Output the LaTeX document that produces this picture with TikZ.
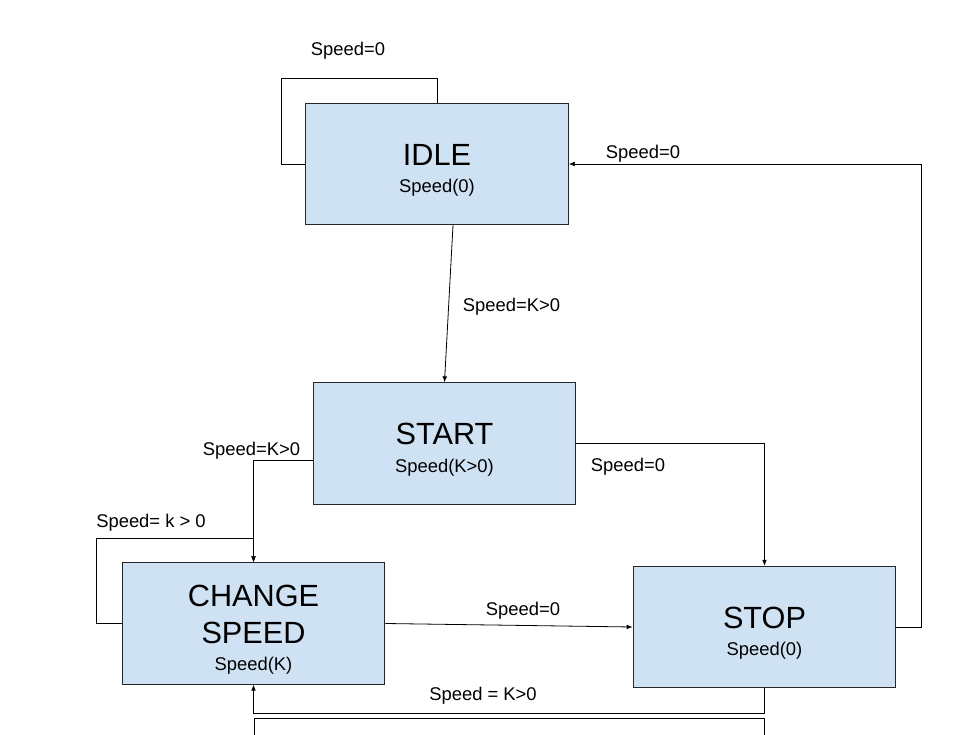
\documentclass[tikz,border=0pt]{standalone}
\usepackage{fontspec}
\setmainfont{Liberation Sans}
\usetikzlibrary{arrows.meta}
\definecolor{statefill}{HTML}{CFE2F3}
\newcommand{\titleword}[1]{{\fontsize{23}{28}\selectfont#1}}
\newcommand{\titletext}[1]{\rule{0pt}{25.5pt}\titleword{#1}}
\begin{document}
\begin{tikzpicture}[x=0.75pt,y=-0.75pt]
    \tikzset{state/.style = {shape=rectangle,draw=black!85,fill=statefill,line width=0.75pt,minimum width=197pt,minimum height=91pt,align=center,font=\fontsize{13.8}{20.5}\selectfont}}
    \tikzset{edge/.style = {-{Latex[length=4.5pt,width=3.5pt]},line width=0.6pt}}
    \tikzset{cond/.style = {anchor=base,inner sep=0pt,font=\fontsize{13.8}{16}\selectfont}}
    \useasboundingbox (0,0) rectangle (958,735);
    \node[state] (idle) at (437,164) {\titletext{IDLE}\\Speed(0)};
    \node[state] (start) at (444.5,443.5) {\titletext{START}\\Speed(K>0)};
    \node[state] (change) at (253.5,623.5) {\titletext{CHANGE}\\[7.5pt]\titleword{SPEED}\\Speed(K)};
    \node[state] (stop) at (764.5,627) {\titletext{STOP}\\Speed(0)};
    \draw[line width=0.6pt] (idle.west) -- ++(-24,0) |- ([yshift=18pt]idle.north) -- (idle.north);
    \draw[edge] ([xshift=12pt]idle.south) -- (start.north);
    \draw[edge] ([yshift=-12.4pt]start.west) -| (change.north);
    \draw[edge] (change.west) -- ++(-25,0) |- ([yshift=18pt]change.north) -- (change.north);
    \draw[edge] (start.east) -| (stop.north);
    \draw[edge] (change.east) -- (stop.west);
    \draw[edge] (stop.east) -- ++(25,0) |- (idle.east);
    \draw[edge] (stop.south) -- ++(0,25) -| (change.south);
    \coordinate (tailL) at (254,740);
    \coordinate (tailR) at (764,740);
    \draw[line width=0.6pt] (tailL) -- ++(0,-22) -| (tailR);
    \node[cond] (idleloop) at (348,56) {Speed=0};
    \node[cond] (idlestart) at (511.5,311) {Speed=K>0};
    \node[cond] (startchange) at (251.5,455) {Speed=K>0};
    \node[cond] (startstop) at (628,471) {Speed=0};
    \node[cond] (changeloop) at (151,527) {Speed= k > 0};
    \node[cond] (changestop) at (523,615) {Speed=0};
    \node[cond] (stopidle) at (643,159) {Speed=0};
    \node[cond] (stopchange) at (483,700) {Speed = K>0};
\end{tikzpicture}
\end{document}
